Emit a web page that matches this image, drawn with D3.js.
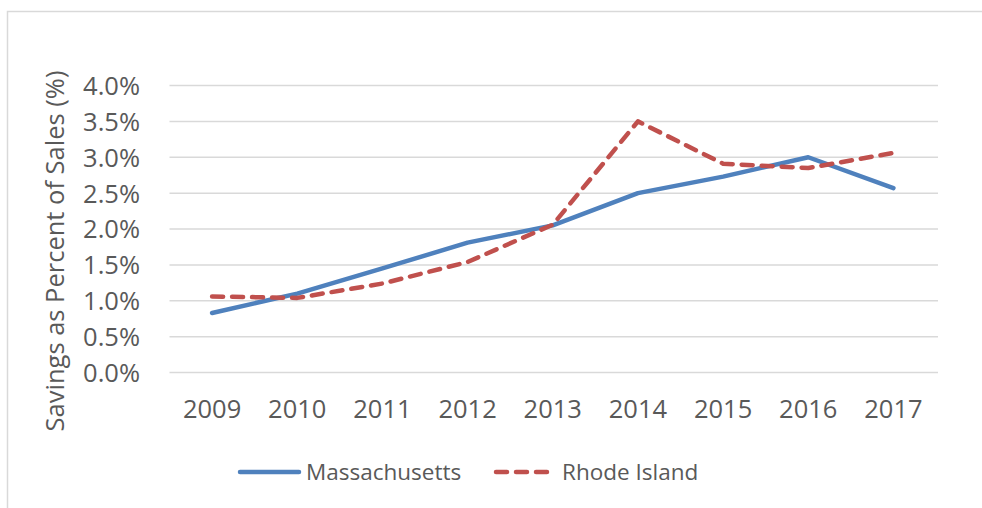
<!DOCTYPE html>
<html>
<head>
<meta charset="utf-8">
<script src="https://cdn.jsdelivr.net/npm/d3@7"></script>
<style>
  html, body { margin: 0; padding: 0; background: #fff; }
  svg { display: block; }
  text { font-family: "Open Sans", sans-serif; fill: #595959; }
</style>
</head>
<body>
<svg id="chart" width="982" height="508"></svg>
<script>
const years = ["2009","2010","2011","2012","2013","2014","2015","2016","2017"];
const massachusetts = [0.83, 1.10, 1.45, 1.81, 2.05, 2.50, 2.73, 3.00, 2.57];
const rhodeIsland   = [1.06, 1.04, 1.24, 1.54, 2.06, 3.50, 2.91, 2.85, 3.06];
const yTicks = [0, 0.5, 1.0, 1.5, 2.0, 2.5, 3.0, 3.5, 4.0];
const seriesNames = ["Massachusetts", "Rhode Island"];
const seriesColors = ["#4f81bd", "#c0504d"];

const svg = d3.select("#chart");

// chart border
svg.append("rect")
  .attr("x", 7.5).attr("y", 11.5)
  .attr("width", 990).attr("height", 520)
  .attr("fill", "none").attr("stroke", "#d9d9d9").attr("stroke-width", 1.5);

const x = d3.scaleBand().domain(years).range([169.5, 936]).padding(0);
const y = d3.scaleLinear().domain([0, 4]).range([372.5, 85.5]);

// gridlines
svg.append("g")
  .selectAll("line")
  .data(yTicks)
  .join("line")
  .attr("x1", 169.5).attr("x2", 938)
  .attr("y1", d => y(d)).attr("y2", d => y(d))
  .attr("stroke", "#d9d9d9").attr("stroke-width", 1.5);

// y axis
const yAxis = d3.axisLeft(y).tickValues(yTicks)
  .tickFormat(d => d3.format(".1f")(d) + "%").tickSize(0).tickPadding(0);
const gy = svg.append("g").attr("transform", "translate(140,0)").call(yAxis);
gy.select(".domain").remove();
gy.selectAll("text").attr("font-size", 25.5).attr("font-family", "Open Sans").attr("fill", "#595959").attr("dy", "0.35em");

// x axis
const xAxis = d3.axisBottom(x).tickSize(0).tickPadding(0);
const gx = svg.append("g").attr("transform", "translate(0,418)").call(xAxis);
gx.select(".domain").remove();
gx.selectAll("text").attr("font-size", 25.5).attr("font-family", "Open Sans").attr("fill", "#595959").attr("dy", "0");

// y axis title
svg.append("text")
  .attr("transform", "translate(64,251) rotate(-90)")
  .attr("text-anchor", "middle")
  .attr("font-size", 25.5)
  .text("Savings as Percent of Sales (%)");

// lines
const line = d3.line()
  .x((d, i) => x(years[i]) + x.bandwidth() / 2)
  .y(d => y(d));

const seriesData = [massachusetts, rhodeIsland];
svg.append("g")
  .selectAll("path")
  .data(seriesData)
  .join("path")
  .attr("d", d => line(d))
  .attr("fill", "none")
  .attr("stroke", (d, i) => seriesColors[i])
  .attr("stroke-width", 4.5)
  .attr("stroke-linecap", "round")
  .attr("stroke-linejoin", "round")
  .attr("stroke-dasharray", (d, i) => i === 1 ? "11,9" : null);

// legend
const legendItems = [
  { x1: 240, x2: 299, tx: 306 },
  { x1: 496, x2: 547, tx: 562 }
];
const lg = svg.append("g");
legendItems.forEach((it, i) => {
  lg.append("line")
    .attr("x1", it.x1).attr("x2", it.x2)
    .attr("y1", 472).attr("y2", 472)
    .attr("stroke", seriesColors[i]).attr("stroke-width", 4.5)
    .attr("stroke-linecap", "round")
    .attr("stroke-dasharray", i === 1 ? "11,9" : null);
  lg.append("text")
    .attr("x", it.tx).attr("y", 472).attr("dy", "0.36em")
    .attr("font-size", 22.5)
    .text(seriesNames[i]);
});
</script>
</body>
</html>
